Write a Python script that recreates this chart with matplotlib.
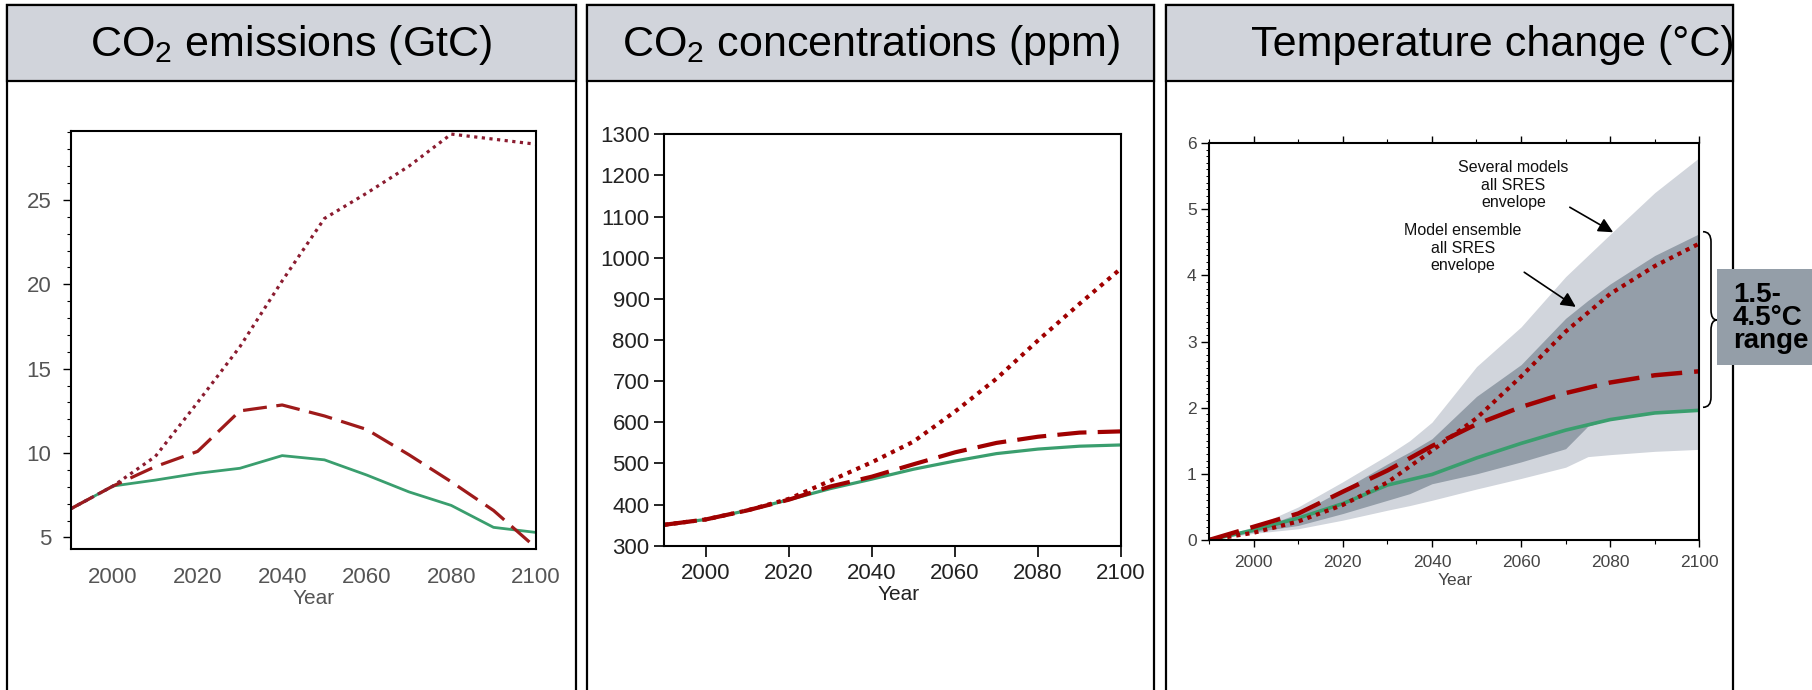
import matplotlib
matplotlib.use('Agg')
import matplotlib.pyplot as plt
from matplotlib.patches import Rectangle, PathPatch
from matplotlib.path import Path
from matplotlib.ticker import MultipleLocator

plt.rcParams['font.family'] = ['Liberation Sans', 'DejaVu Sans']
plt.rcParams['mathtext.fontset'] = 'custom'
plt.rcParams['mathtext.rm'] = 'Liberation Sans'
plt.rcParams['mathtext.bf'] = 'Liberation Sans:bold'
plt.rcParams['mathtext.it'] = 'Liberation Sans:italic'

# ---- data ----
years = [1990, 2000, 2010, 2020, 2030, 2040, 2050, 2060, 2070, 2080, 2090, 2100]

# CO2 emissions (GtC)
emis_b1 = [6.7, 8.05, 8.4, 8.8, 9.1, 9.85, 9.6, 8.7, 7.7, 6.9, 5.6, 5.3]
emis_a1b = [6.7, 8.05, 9.2, 10.1, 12.5, 12.85, 12.2, 11.4, 9.9, 8.3, 6.6, 4.4]
emis_a2 = [6.7, 8.05, 9.8, 13.0, 16.3, 20.2, 23.9, 25.4, 27.0, 28.9, 28.6, 28.3]

# CO2 concentrations (ppm)
conc_b1 = [351, 364, 386, 412, 439, 462, 486, 506, 524, 535, 542, 545]
conc_a1b = [351, 364, 386, 412, 444, 468, 498, 527, 550, 565, 575, 578]
conc_a2 = [351, 364, 386, 414, 458, 503, 553, 626, 706, 799, 888, 974]

# temperature change (deg C)
temp_b1 = [0, 0.15, 0.33, 0.55, 0.83, 0.99, 1.24, 1.46, 1.66, 1.82, 1.92, 1.96]
temp_a1b = [0, 0.2, 0.40, 0.73, 1.05, 1.42, 1.75, 2.01, 2.22, 2.38, 2.49, 2.55]
temp_a2 = [0, 0.11, 0.28, 0.53, 0.87, 1.35, 1.84, 2.47, 3.15, 3.72, 4.14, 4.48]

env_years = [1990, 2000, 2010, 2020, 2030, 2035, 2040, 2050, 2060, 2070, 2075, 2080, 2090, 2100]
env_all_hi = [0, 0.2, 0.5, 0.88, 1.28, 1.5, 1.78, 2.62, 3.22, 3.98, 4.3, 4.62, 5.25, 5.78]
env_all_lo = [0, 0.1, 0.17, 0.3, 0.45, 0.52, 0.6, 0.77, 0.93, 1.1, 1.26, 1.29, 1.34, 1.37]
env_ens_hi = [0, 0.15, 0.4, 0.76, 1.15, 1.33, 1.53, 2.17, 2.65, 3.35, 3.62, 3.87, 4.3, 4.63]
env_ens_lo = [0, 0.12, 0.22, 0.4, 0.6, 0.7, 0.85, 1.0, 1.18, 1.38, 1.72, 1.82, 1.92, 1.96]

titles = [r'CO$_2$ emissions (GtC)',
          r'CO$_2$ concentrations (ppm)',
          'Temperature change (°C)']

GREEN = '#3a9e6e'
RED = '#a00000'
W, H = 1812, 690


def fx(x):
    return x / W


def fy(y):
    return 1 - y / H


def axes_box(l, t, r, b):
    return [l / W, 1 - b / H, (r - l) / W, (b - t) / H]


fig = plt.figure(figsize=(W / 100, H / 100), dpi=100)

# panel frames and header bars
panels = [(7, 576), (587, 1154), (1166, 1733)]
headers = []
for (l, r) in panels:
    frame = Rectangle((fx(l), fy(700)), (r - l) / W, (700 - 5) / H,
                      transform=fig.transFigure, facecolor='none',
                      edgecolor='black', lw=1.6, clip_on=False)
    fig.add_artist(frame)
    head = Rectangle((fx(l), fy(80.5)), (r - l) / W, 75.5 / H,
                     transform=fig.transFigure, facecolor='#d1d4db',
                     edgecolor='black', lw=1.6)
    fig.add_artist(head)
    headers.append(head)

fig.text(fx(291.5), fy(45), titles[0], ha='center', va='center', fontsize=31)
fig.text(fx(870.5), fy(45), titles[1], ha='center', va='center', fontsize=31)
t3 = fig.text(fx(1251), fy(45), titles[2], ha='left', va='center', fontsize=31)
t3.set_clip_path(headers[2])

# ---- panel 1: emissions ----
ax1 = fig.add_axes(axes_box(70.8, 130.7, 535.8, 549.3))
ax1.plot(years, emis_b1, color=GREEN, lw=2.0)
ax1.plot(years, emis_a1b, color='#9e1a1a', lw=2.3, dashes=(7.5, 3))
ax1.plot(years, emis_a2, color='#8b1c30', lw=2.3, dashes=(1, 1.4))
ax1.set_xlim(1990, 2100)
ax1.set_ylim(4.3, 29.1)
ax1.set_xticks(range(2000, 2101, 20))
ax1.set_yticks([5, 10, 15, 20, 25])
ax1.yaxis.set_minor_locator(MultipleLocator(1))
ax1.tick_params(axis='y', which='major', direction='out', length=6, width=1,
                labelsize=16, labelcolor='#555', pad=8)
ax1.tick_params(axis='y', which='minor', direction='out', length=3, width=0.8)
ax1.tick_params(axis='x', length=0, labelsize=16, labelcolor='#555', pad=13)
ax1.text(0.5226, -0.1178, 'Year', transform=ax1.transAxes, ha='center',
         va='center', fontsize=15, color='#555')

# ---- panel 2: concentrations ----
ax2 = fig.add_axes(axes_box(664.2, 134.2, 1121.1, 545.8))
ax2.plot(years, conc_b1, color=GREEN, lw=2.3)
ax2.plot(years, conc_a1b, color=RED, lw=3, dashes=(7, 2.7))
ax2.plot(years, conc_a2, color=RED, lw=3, dashes=(1, 1.3))
ax2.set_xlim(1990, 2100)
ax2.set_ylim(300, 1300)
ax2.set_xticks(range(2000, 2101, 20))
ax2.set_yticks(range(300, 1301, 100))
ax2.tick_params(axis='y', direction='out', length=7, width=1.2,
                labelsize=16, labelcolor='#222', pad=3.5)
ax2.tick_params(axis='x', direction='out', length=8, width=1.2,
                labelsize=16, labelcolor='#222', pad=4.5)
ax2.text(0.5126, -0.1195, 'Year', transform=ax2.transAxes, ha='center',
         va='center', fontsize=15, color='#222')

# ---- panel 3: temperature ----
ax3 = fig.add_axes(axes_box(1209.1, 143.0, 1699.3, 540.0))
ax3.fill_between(env_years, env_all_lo, env_all_hi, color='#d1d5dc', lw=0)
ax3.fill_between(env_years, env_ens_lo, env_ens_hi, color='#949ea9', lw=0)
ax3.plot(years, temp_b1, color=GREEN, lw=2.6)
ax3.plot(years, temp_a1b, color=RED, lw=3.2, dashes=(7, 2.7))
ax3.plot(years, temp_a2, color=RED, lw=3, dashes=(1, 1.2))
ax3.set_xlim(1990, 2100)
ax3.set_ylim(0, 6)
ax3.set_xticks(range(2000, 2101, 20))
ax3.xaxis.set_minor_locator(MultipleLocator(10))
ax3.set_yticks(range(0, 7))
ax3.yaxis.set_minor_locator(MultipleLocator(0.1))
ax3.tick_params(axis='x', which='major', direction='out', length=5, width=1,
                top=True, labelsize=12.5, labelcolor='#444', pad=6)
ax3.tick_params(axis='x', which='minor', direction='out', length=3, width=0.8, top=True)
ax3.tick_params(axis='y', which='major', direction='out', length=6, width=1,
                labelsize=12.5, labelcolor='#444', pad=3)
ax3.tick_params(axis='y', which='minor', direction='out', length=2.5, width=0.7)
ax3.text(0.5016, -0.1008, 'Year', transform=ax3.transAxes, ha='center',
         va='center', fontsize=12.5, color='#444')

ax3.annotate('', xy=(2081.2, 4.63), xytext=(2070.4, 5.05),
             arrowprops=dict(arrowstyle='-|>', color='black', lw=1.2, mutation_scale=22))
ax3.annotate('', xy=(2072.8, 3.50), xytext=(2060.2, 4.07),
             arrowprops=dict(arrowstyle='-|>', color='black', lw=1.2, mutation_scale=22))
ax3.text(2058.3, 5.36, 'Several models\nall SRES\nenvelope', ha='center',
         va='center', fontsize=11.5, color='#111')
ax3.text(2046.9, 4.41, 'Model ensemble\nall SRES\nenvelope', ha='center',
         va='center', fontsize=11.5, color='#111')

for ax in (ax1, ax2, ax3):
    for s in ax.spines.values():
        s.set_linewidth(1.5)

# brace and range box at the right of panel 3
x0, x1, xt = 1703, 1711, 1717
ytop, ymid, ybot = 231.7, 320, 407.3
pts = [(x0, ytop), (x1, ytop), (x1, ytop + 10), (x1, ymid - 10),
       (x1, ymid), (xt, ymid), (x1, ymid), (x1, ymid + 10),
       (x1, ybot - 10), (x1, ybot), (x0, ybot)]
codes = [Path.MOVETO, Path.CURVE3, Path.CURVE3, Path.LINETO,
         Path.CURVE3, Path.CURVE3, Path.CURVE3, Path.CURVE3,
         Path.LINETO, Path.CURVE3, Path.CURVE3]
brace = PathPatch(Path([(fx(a), fy(b)) for a, b in pts], codes),
                  transform=fig.transFigure, facecolor='none',
                  edgecolor='black', lw=1.2)
fig.add_artist(brace)

box = Rectangle((fx(1717), fy(365)), (W - 1717) / W, (365 - 269) / H,
                transform=fig.transFigure, facecolor='#949ea8',
                edgecolor='none', zorder=5)
fig.add_artist(box)
fig.text(fx(1733), fy(318), '1.5-\n4.5°C\nrange', ha='left', va='center',
         fontsize=20, fontweight='bold', linespacing=0.85, zorder=6)

fig.savefig('out.png', dpi=100)
